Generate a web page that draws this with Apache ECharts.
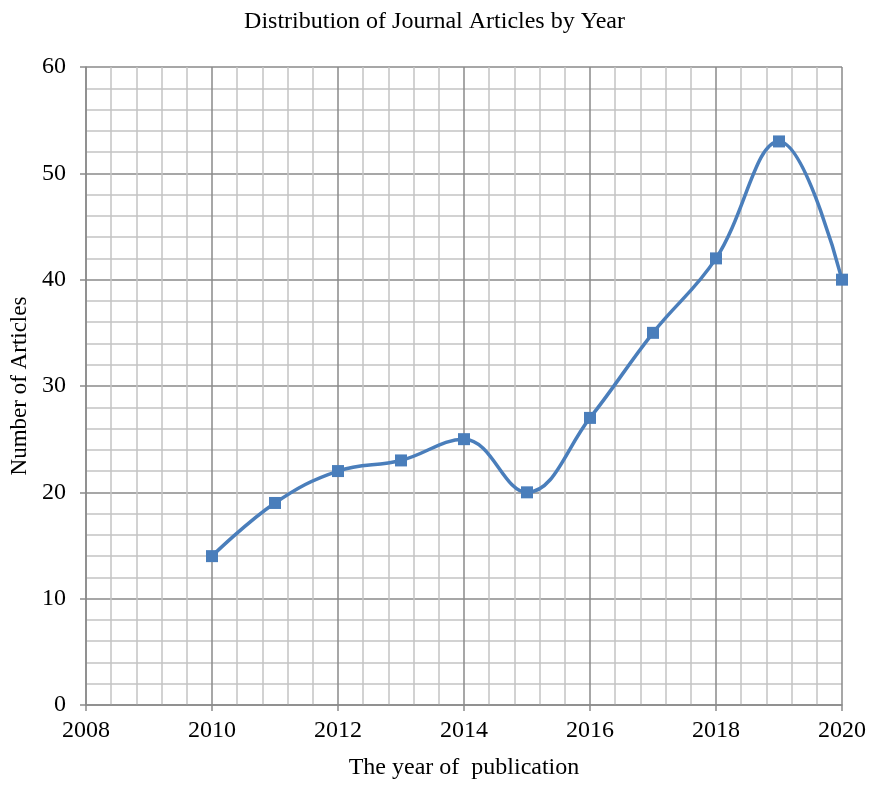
<!DOCTYPE html>
<html>
<head>
<meta charset="utf-8">
<script src="https://cdn.jsdelivr.net/npm/echarts@6/dist/echarts.min.js"></script>
<style>
  html, body { margin: 0; padding: 0; background: #fff; }
  #chart { width: 869px; height: 785px; }
</style>
</head>
<body>
<div id="chart"></div>
<script>
// Publication years and article counts
const years = [2010, 2011, 2012, 2013, 2014, 2015, 2016, 2017, 2018, 2019, 2020];
const articles = [14, 19, 22, 23, 25, 20, 27, 35, 42, 53, 40];

const xMin = 2008, xMax = 2020, xStep = 2;
const yMin = 0, yMax = 60, yStep = 10;

const serif = '"Liberation Serif", "Times New Roman", serif';
const majorGrid = '#8a8a8a';
const minorGrid = '#c4c4c4';

const chart = echarts.init(document.getElementById('chart'), null, { renderer: 'canvas' });

chart.setOption({
  backgroundColor: '#ffffff',
  animation: false,
  title: {
    text: 'Distribution of Journal Articles by Year',
    left: 'center',
    top: 5,
    textStyle: { fontFamily: serif, fontSize: 24, fontWeight: 'normal', color: '#000' }
  },
  grid: { left: 86, right: 21, top: 67, bottom: 79 },
  xAxis: {
    type: 'value',
    min: xMin, max: xMax, interval: xStep,
    name: 'The year of  publication',
    nameLocation: 'middle',
    nameGap: 51,
    nameTextStyle: { fontFamily: serif, fontSize: 24, color: '#000' },
    axisLine: { show: true, onZero: false, lineStyle: { color: majorGrid, width: 1.5 } },
    axisTick: { show: true, length: 6, lineStyle: { color: majorGrid, width: 1.5 } },
    axisLabel: { fontFamily: serif, fontSize: 24, color: '#000', margin: 14, formatter: v => String(v) },
    splitLine: { show: true, lineStyle: { color: majorGrid, width: 1.5 } },
    minorTick: { show: false, splitNumber: 5 },
    minorSplitLine: { show: true, lineStyle: { color: minorGrid, width: 1.5 } }
  },
  yAxis: {
    type: 'value',
    min: yMin, max: yMax, interval: yStep,
    name: 'Number of Articles',
    nameLocation: 'middle',
    nameGap: 53,
    nameRotate: 90,
    nameTextStyle: { fontFamily: serif, fontSize: 23, color: '#000' },
    axisLine: { show: true, lineStyle: { color: majorGrid, width: 1.5 } },
    axisTick: { show: true, length: 6, lineStyle: { color: majorGrid, width: 1.5 } },
    axisLabel: { fontFamily: serif, fontSize: 24, color: '#000', margin: 20 },
    splitLine: { show: true, lineStyle: { color: majorGrid, width: 1.5 } },
    minorTick: { show: false, splitNumber: 5 },
    minorSplitLine: { show: true, lineStyle: { color: minorGrid, width: 1.5 } }
  },
  series: [{
    type: 'line',
    data: years.map((y, i) => [y, articles[i]]),
    smooth: 0.4,
    symbol: 'rect',
    symbolSize: 12,
    lineStyle: { color: '#4a7ebb', width: 3.5 },
    itemStyle: { color: '#4a7ebb' },
    clip: false
  }]
});
</script>
</body>
</html>
